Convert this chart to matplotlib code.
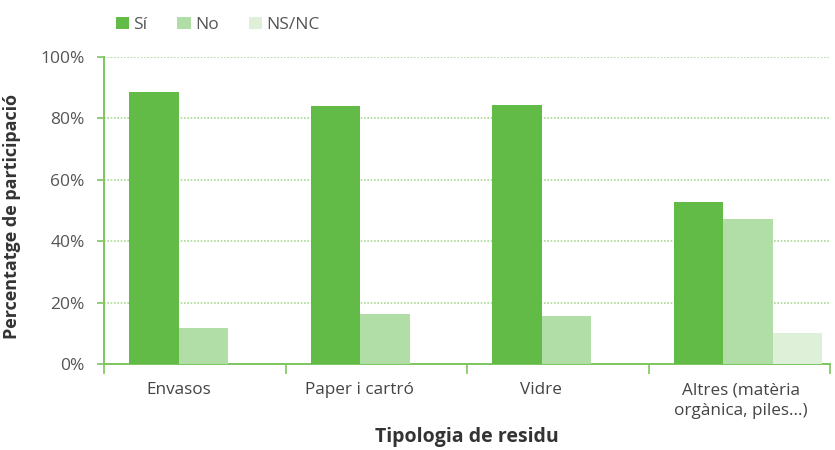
import numpy as np
import matplotlib.pyplot as plt
from matplotlib.patches import Patch

categories = ['Envasos', 'Paper i cartró', 'Vidre', 'Altres (matèria\norgànica, piles...)']
series_names = ['Sí', 'No', 'NS/NC']
si_values = [88.6, 84.0, 84.4, 52.8]
no_values = [11.7, 16.3, 15.6, 47.2]
nsnc_values = [0, 0, 0, 10.1]
colors = ['#62bb47', '#b1dda6', '#dff0d9']

plt.rcParams['font.family'] = ['Open Sans', 'DejaVu Sans']

fig = plt.figure(figsize=(8.35, 4.5), dpi=100)
ax = fig.add_axes([104 / 835, 86 / 450, 726 / 835, 307 / 450])

x = np.arange(len(categories))
width = 0.273
offsets = [-0.225, 0.048, 0.322]
for vals, off, col in zip([si_values, no_values, nsnc_values], offsets, colors):
    ax.bar(x + off, vals, width=width, color=col, zorder=3)

ax.set_xlim(-0.5, 3.5)
ax.set_ylim(0, 100)
ax.set_yticks(np.arange(0, 101, 20))
ax.set_yticklabels([f'{v}%' for v in range(0, 101, 20)], fontsize=12.5, color='#555555')

# category labels sit under the Sí/No boundary, the last one is centred
label_pos = [-0.09, 0.91, 1.91, 3.01]
ax.set_xticks(label_pos)
ax.set_xticklabels(categories, fontsize=12.3, color='#444444', linespacing=1.4)
ax.set_xticks(np.arange(-0.5, 3.6, 1), minor=True)
ax.tick_params(axis='x', which='major', length=0, pad=13)
ax.tick_params(axis='x', which='minor', length=7, color='#7cc65e', width=1.2)
ax.tick_params(axis='y', length=5, color='#7cc65e', width=1.2, pad=9)

ax.yaxis.grid(True, linestyle=(0, (1, 1)), color='#a9d897', linewidth=1.2, zorder=0)
ax.set_axisbelow(True)

for side in ['top', 'right']:
    ax.spines[side].set_visible(False)
for side in ['left', 'bottom']:
    ax.spines[side].set_color('#7cc65e')
    ax.spines[side].set_linewidth(1.4)

ax.set_ylabel('Percentatge de participació', fontsize=13, fontweight='bold', color='#333333')
ax.yaxis.set_label_coords(-83 / 726, 0.482)
ax.set_xlabel('Tipologia de residu', fontsize=14, fontweight='bold', color='#333333', labelpad=6)

handles = [Patch(facecolor=c, edgecolor='none') for c in colors]
fig.legend(handles, series_names, loc='upper left', bbox_to_anchor=(100 / 835, 1 - 1 / 450), ncol=3,
           frameon=False, fontsize=12.5, handlelength=0.75, handleheight=0.75,
           handletextpad=0.25, columnspacing=1.75, labelcolor='#555555')

fig.savefig('out.png', dpi=100)
